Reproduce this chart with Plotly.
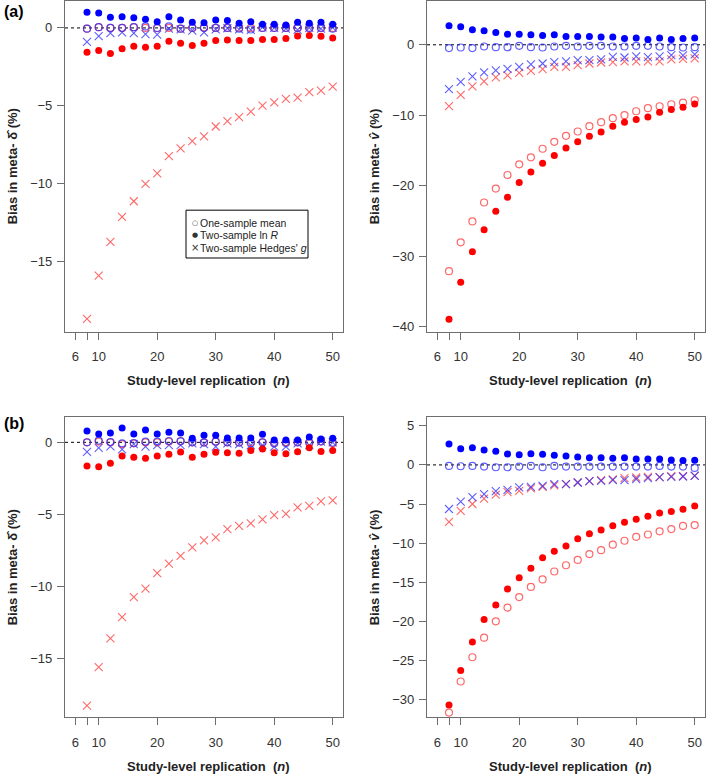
import plotly.graph_objects as go

W, H = 709, 776

# ---------------- data ----------------
n_values = [8, 10, 12, 14, 16, 18, 20, 22, 24, 26, 28, 30, 32, 34, 36, 38, 40, 42, 44, 46, 48, 50]
x_tick_vals = [6, 8, 10, 20, 30, 40, 50]
x_tick_text = ["6", "", "10", "20", "30", "40", "50"]

# panel (a) - delta
a_delta_blue_filled = [1.0, 0.96, 0.68, 0.72, 0.66, 0.55, 0.40, 0.72, 0.51, 0.36, 0.34, 0.51, 0.47, 0.30, 0.40, 0.23, 0.23, 0.19, 0.36, 0.30, 0.36, 0.23]
a_delta_red_filled = [-1.56, -1.45, -1.64, -1.34, -1.17, -1.24, -1.17, -0.85, -0.98, -1.13, -0.98, -0.81, -0.77, -0.81, -0.81, -0.75, -0.75, -0.68, -0.51, -0.49, -0.53, -0.64]
a_delta_blue_x = [-0.9, -0.53, -0.34, -0.28, -0.34, -0.4, -0.43, -0.04, -0.09, -0.17, -0.28, -0.09, -0.02, -0.09, -0.13, 0.04, 0.0, -0.04, -0.13, 0.0, -0.04, 0.02]
a_delta_blue_open = [-0.05, 0.05, 0.0, 0.0, 0.05, 0.1, 0.0, 0.1, -0.05, 0.0, 0.0, 0.0, 0.0, -0.05, -0.1, 0.0, 0.0, 0.0, 0.0, 0.0, 0.0, -0.05]
a_delta_red_open = [-0.05, 0.05, 0.0, 0.0, 0.05, 0.0, -0.02, 0.0, -0.05, 0.0, 0.03, 0.0, 0.0, 0.0, 0.0, 0.0, 0.0, 0.0, 0.0, 0.0, 0.0, 0.0]
a_delta_red_x = [-18.68, -15.91, -13.74, -12.13, -11.13, -10.02, -9.34, -8.23, -7.74, -7.27, -6.97, -6.33, -5.99, -5.73, -5.37, -4.99, -4.78, -4.56, -4.48, -4.12, -4.03, -3.77]

# panel (a) - v
a_v_blue_filled = [2.7, 2.55, 2.13, 1.99, 1.75, 1.51, 1.51, 1.42, 1.32, 1.42, 1.18, 1.18, 1.18, 1.09, 1.09, 0.9, 0.95, 0.76, 0.95, 0.76, 0.9, 0.95]
a_v_blue_open = [-0.47, -0.38, -0.47, -0.24, -0.33, -0.33, -0.14, -0.33, -0.38, -0.24, -0.14, -0.24, -0.14, -0.14, -0.24, -0.24, -0.14, -0.14, -0.24, -0.33, -0.38, -0.33]
a_v_blue_x = [-6.29, -5.25, -4.49, -3.92, -3.64, -3.4, -3.12, -2.79, -2.65, -2.46, -2.36, -2.17, -2.17, -2.08, -1.7, -1.8, -1.65, -1.75, -1.65, -1.47, -1.51, -1.37]
a_v_red_x = [-8.7, -7.09, -5.91, -5.2, -4.63, -4.35, -3.97, -3.69, -3.45, -3.12, -3.12, -2.88, -2.65, -2.51, -2.46, -2.36, -2.36, -2.36, -2.36, -2.08, -1.99, -1.94]
a_v_red_open = [-32.1, -28.0, -25.04, -22.36, -20.38, -18.46, -16.95, -15.96, -14.74, -13.75, -12.9, -12.29, -11.54, -10.97, -10.41, -9.98, -9.42, -8.99, -8.71, -8.43, -8.19, -7.86]
a_v_red_filled = [-38.9, -33.66, -29.33, -26.23, -23.59, -21.61, -19.54, -18.03, -16.81, -15.68, -14.64, -13.75, -12.95, -12.38, -11.54, -10.97, -10.59, -10.22, -9.56, -9.18, -8.85, -8.38]

# panel (b) - delta
b_delta_blue_filled = [0.79, 0.58, 0.65, 1.0, 0.58, 0.86, 0.58, 0.69, 0.65, 0.28, 0.49, 0.49, 0.3, 0.3, 0.3, 0.56, 0.16, 0.16, 0.16, 0.37, 0.23, 0.28]
b_delta_red_filled = [-1.64, -1.69, -1.46, -0.95, -1.04, -1.11, -0.95, -0.83, -0.67, -1.04, -0.83, -0.69, -0.72, -0.76, -0.56, -0.46, -0.72, -0.79, -0.65, -0.37, -0.63, -0.56]
b_delta_blue_x = [-0.67, -0.39, -0.28, -0.49, -0.12, -0.3, -0.19, -0.19, -0.19, -0.07, -0.12, -0.3, -0.07, -0.12, -0.19, -0.19, -0.3, -0.3, -0.07, -0.19, 0.05, 0.0]
b_delta_blue_open = [0.0, 0.12, 0.02, -0.07, -0.05, 0.05, 0.05, 0.09, 0.07, 0.0, -0.02, 0.05, 0.0, -0.02, -0.07, 0.0, -0.07, -0.05, 0.0, 0.0, 0.07, -0.02]
b_delta_red_open = [0.0, 0.05, 0.0, -0.12, -0.07, 0.0, 0.0, 0.05, 0.09, 0.0, 0.0, 0.05, 0.0, 0.0, 0.0, 0.0, -0.05, 0.0, 0.0, -0.05, 0.05, -0.07]
b_delta_red_x = [-18.27, -15.6, -13.6, -12.12, -10.74, -10.15, -9.07, -8.42, -7.87, -7.29, -6.8, -6.6, -6.02, -5.79, -5.63, -5.35, -5.05, -4.96, -4.52, -4.41, -4.1, -4.03]

# panel (b) - v
b_v_blue_filled = [2.67, 2.08, 2.2, 1.91, 1.74, 1.4, 1.31, 1.44, 1.36, 1.23, 1.14, 1.02, 0.93, 0.93, 0.85, 0.93, 0.76, 0.76, 0.76, 0.64, 0.55, 0.59]
b_v_blue_open = [-0.13, -0.17, -0.13, -0.21, -0.3, -0.3, -0.21, -0.13, -0.3, -0.13, -0.21, -0.21, -0.21, -0.21, -0.21, -0.21, -0.21, -0.21, -0.13, -0.21, -0.21, -0.38]
b_v_blue_x = [-5.64, -4.7, -4.11, -3.73, -3.35, -3.18, -2.88, -2.8, -2.67, -2.46, -2.46, -2.25, -2.08, -2.03, -1.95, -1.95, -1.82, -1.69, -1.57, -1.53, -1.48, -1.4]
b_v_red_x = [-7.29, -5.89, -5.0, -4.32, -3.81, -3.47, -3.31, -3.0, -2.8, -2.63, -2.46, -2.25, -2.08, -1.95, -1.86, -1.69, -1.61, -1.53, -1.57, -1.44, -1.44, -1.36]
b_v_red_filled = [-30.7, -26.3, -22.66, -19.77, -17.92, -15.88, -14.44, -13.21, -11.86, -11.05, -10.37, -9.44, -8.81, -8.34, -7.79, -7.32, -6.94, -6.56, -6.14, -5.97, -5.67, -5.25]
b_v_red_open = [-31.67, -27.7, -24.6, -22.1, -20.0, -18.25, -16.9, -15.6, -14.65, -13.63, -12.83, -12.15, -11.4, -10.9, -10.2, -9.7, -9.2, -8.9, -8.5, -8.2, -7.8, -7.7]

legend_labels = ["One-sample mean", "Two-sample ln <i>R</i>", "Two-sample Hedges' <i>g</i>"]
panel_labels = ["(a)", "(b)"]
y_title_delta = "Bias in meta- δ\u0302 (%)"
y_title_v = "Bias in meta- <i>v\u0302</i> (%)"
x_title = "Study-level replication  (<i>n</i>)"

# ---------------- layout helpers ----------------
def px(x):
    return x / W

def py(y):
    return 1 - y / H

FONT = "Liberation Sans, Arial, sans-serif"
AXCOL = "#6e6e6e"
BLUE = "#0000ff"
RED = "#ff0000"
BLUE_T = "rgba(40,40,255,0.75)"
RED_T = "rgba(255,40,40,0.7)"

panels = [
    dict(ax="", xd=(65, 343), yd=(1, 333), yr=[-19.51, 1.73], dt=5,
         data=(a_delta_red_open, a_delta_red_filled, a_delta_red_x,
               a_delta_blue_open, a_delta_blue_filled, a_delta_blue_x)),
    dict(ax="2", xd=(427, 705), yd=(1, 333), yr=[-40.68, 6.21], dt=10,
         data=(a_v_red_open, a_v_red_filled, a_v_red_x,
               a_v_blue_open, a_v_blue_filled, a_v_blue_x)),
    dict(ax="3", xd=(65, 343), yd=(419, 720), yr=[-19.07, 1.73], dt=5,
         data=(b_delta_red_open, b_delta_red_filled, b_delta_red_x,
               b_delta_blue_open, b_delta_blue_filled, b_delta_blue_x)),
    dict(ax="4", xd=(427, 705), yd=(419, 720), yr=[-32.27, 6.08], dt=5,
         data=(b_v_red_open, b_v_red_filled, b_v_red_x,
               b_v_blue_open, b_v_blue_filled, b_v_blue_x)),
]

fig = go.Figure()
layout = dict(
    width=W, height=H,
    margin=dict(l=0, r=0, t=0, b=0),
    paper_bgcolor="white", plot_bgcolor="white",
    showlegend=False,
    font=dict(family=FONT, size=13, color="#333333"),
    shapes=[], annotations=[],
)

for p in panels:
    ax = p["ax"]
    xa = "x" + ax
    ya = "y" + ax
    r_open, r_fill, r_x, b_open, b_fill, b_x = p["data"]
    series = [
        (r_x, "x-thin-open", RED_T, 8, 1.1, "red, Hedges' g"),
        (b_x, "x-thin-open", BLUE_T, 8, 1.1, "blue, Hedges' g"),
        (r_open, "circle-open", RED_T, 7, 1.2, "red, one-sample mean"),
        (b_open, "circle-open", BLUE_T, 7, 1.2, "blue, one-sample mean"),
        (r_fill, "circle", RED, 7, 0, "red, ln R"),
        (b_fill, "circle", BLUE, 7, 0, "blue, ln R"),
    ]
    for vals, sym, col, size, lw, name in series:
        mk = dict(symbol=sym, size=size, color=col)
        if lw:
            mk["line"] = dict(color=col, width=lw)
        else:
            mk["line"] = dict(width=0)
        fig.add_trace(go.Scatter(x=n_values, y=vals, mode="markers", marker=mk,
                                 name=name, xaxis=xa, yaxis=ya, hoverinfo="x+y"))
    common = dict(showgrid=False, zeroline=False, showline=True, mirror=True,
                  linecolor=AXCOL, linewidth=1.2, ticks="outside", ticklen=7,
                  tickcolor=AXCOL, tickwidth=1.2,
                  tickfont=dict(family=FONT, size=13, color="#333333"))
    layout["xaxis" + ax] = dict(common, domain=[px(p["xd"][0]), px(p["xd"][1])],
                                range=[4.24, 51.76], tickvals=x_tick_vals,
                                ticktext=x_tick_text, anchor=ya,
                                ticklabelstandoff=6)
    layout["yaxis" + ax] = dict(common, domain=[py(p["yd"][1]), py(p["yd"][0])],
                                range=p["yr"], dtick=p["dt"], tick0=0, anchor=xa,
                                ticklabelstandoff=2)
    layout["shapes"].append(dict(type="line", xref=xa + " domain", yref=ya,
                                 x0=0, x1=1, y0=0, y1=0,
                                 line=dict(color="black", width=1, dash="dot"),
                                 layer="below"))
    xc = (p["xd"][0] + p["xd"][1]) / 2 + 4
    layout["annotations"].append(dict(
        xref="paper", yref="paper", x=px(xc), y=py(p["yd"][1] + 49),
        text="<b>" + x_title + "</b>", showarrow=False,
        font=dict(family=FONT, size=13, color="#222222"),
        xanchor="center", yanchor="middle"))
    yc = (p["yd"][0] + p["yd"][1]) / 2
    ytx = y_title_delta if p["xd"][0] < 200 else y_title_v
    ytxx = 12 if p["xd"][0] < 200 else 374
    layout["annotations"].append(dict(
        xref="paper", yref="paper", x=px(ytxx), y=py(yc),
        text="<b>" + ytx + "</b>", showarrow=False, textangle=-90,
        font=dict(family=FONT, size=13, color="#222222"),
        xanchor="center", yanchor="middle"))

for lab, ypos in zip(panel_labels, [12, 425]):
    layout["annotations"].append(dict(
        xref="paper", yref="paper", x=px(2), y=py(ypos), text="<b>" + lab + "</b>",
        showarrow=False, xanchor="left", yanchor="middle",
        font=dict(family=FONT, size=16, color="black")))

layout["shapes"].append(dict(type="rect", xref="paper", yref="paper",
                             x0=px(186), x1=px(308), y0=py(259), y1=py(211),
                             line=dict(color="black", width=1), fillcolor="white",
                             layer="below"))
legend_syms = ["○", "●", "×"]
for i, (sym, lab) in enumerate(zip(legend_syms, legend_labels)):
    yy = 224 + i * 12.3
    layout["annotations"].append(dict(
        xref="paper", yref="paper", x=px(195), y=py(yy), text=sym, showarrow=False,
        xanchor="center", yanchor="middle",
        font=dict(family="DejaVu Sans", size=7 if sym != "×" else 10, color="#333333")))
    layout["annotations"].append(dict(
        xref="paper", yref="paper", x=px(198), y=py(yy), text=lab, showarrow=False,
        xanchor="left", yanchor="middle",
        font=dict(family=FONT, size=10.5, color="#222222")))

fig.update_layout(**layout)
fig.write_html("out.html", config={"displayModeBar": False},
               post_script="document.body.style.margin='0';document.body.style.overflow='hidden';")
